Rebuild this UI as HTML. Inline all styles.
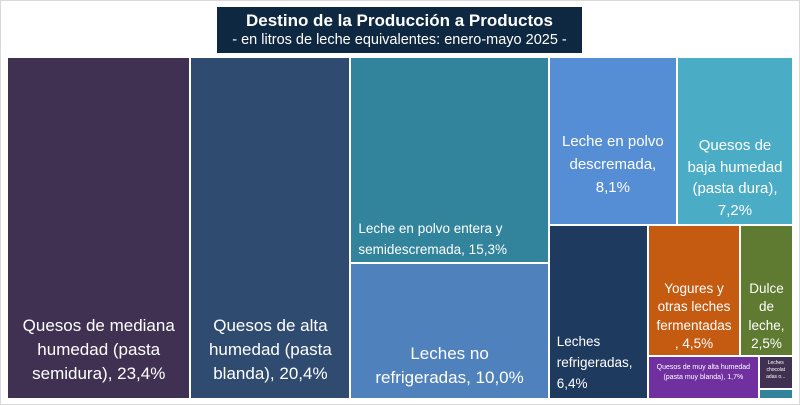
<!DOCTYPE html>
<html><head><meta charset="utf-8"><style>
body{margin:0;background:#fff;}
#wrap{position:relative;width:800px;height:405px;background:#fff;overflow:hidden;font-family:"Liberation Sans",sans-serif;}
#frame{position:absolute;left:0;top:0;width:798px;height:403px;border:1px solid #d9d9d9;}
#title{position:absolute;left:217px;top:7px;width:365px;height:46px;background:#0e2841;color:#fff;text-align:center;}
#title .t1{font-weight:bold;font-size:17px;margin-top:3px;line-height:21px;}
#title .t2{font-size:14.5px;line-height:19px;}
.cell{position:absolute;box-sizing:border-box;color:#fff;overflow:hidden;}
.lab{position:absolute;left:0;right:0;text-align:center;}
</style></head><body>
<div id="wrap">
<div id="frame"></div>
<div id="title">
<div class="t1">Destino de la Producción a Productos</div>
<div class="t2">- en litros de leche equivalentes: enero-mayo 2025 -</div>
</div>
<div id="plot"></div>
</div>
<script>
const categories=["Quesos de mediana humedad (pasta semidura)","Quesos de alta humedad (pasta blanda)","Leche en polvo entera y semidescremada","Leches no refrigeradas","Leche en polvo descremada","Quesos de baja humedad (pasta dura)","Leches refrigeradas","Yogures y otras leches fermentadas","Dulce de leche","Quesos de muy alta humedad (pasta muy blanda)","Leches chocolatadas","Otros"];
const values=[23.4,20.4,15.3,10.0,8.1,7.2,6.4,4.5,2.5,1.7,0.4,0.1];
const valueLabels=["23,4%","20,4%","15,3%","10,0%","8,1%","7,2%","6,4%","4,5%","2,5%","1,7%","0,4%","0,1%"];
const labelLines=[
 ["Quesos de mediana","humedad (pasta","semidura), 23,4%"],
 ["Quesos de alta","humedad (pasta","blanda), 20,4%"],
 ["Leche en polvo entera y","semidescremada, 15,3%"],
 ["Leches no","refrigeradas, 10,0%"],
 ["Leche en polvo","descremada,","8,1%"],
 ["Quesos de","baja humedad","(pasta dura),","7,2%"],
 ["Leches","refrigeradas,","6,4%"],
 ["Yogures y","otras leches","fermentadas",", 4,5%"],
 ["Dulce","de","leche,","2,5%"],
 ["Quesos de muy alta humedad","(pasta muy blanda), 1,7%"],
 ["Leches","chocolat","adas o..."],
 []];
const groups=[[0],[1],[2,3],[4,5],[6],[7,8],[9],[10],[11]];
const colors=["#403152","#2f4b70","#31849b","#4f81bd","#558ed5","#4bacc6","#1f3a5f","#c55a11","#5f7a31","#7030a0","#403152","#31849b"];
const styles=[[17,24,'b',12,'c'],[17,24,'b',12,'c'],[13.5,21,'b',2,'l'],[17,24,'b',8,'c'],[15,23,'t',72,'c'],[15,21.5,'t',77,'c'],[13.5,21,'b',4,'l'],[13.5,18.5,'b',1,'c'],[13.5,18.5,'b',1,'c'],[7,10,'t',6,'c'],[5,7,'t',3,'c'],[5,7,'t',0,'c']];
const plot=document.getElementById('wrap');
const X0=8,Y0=58,W=784,H=340,GAP=2;
let rx=X0,ry=Y0,rw=W,rh=H,remain=values.reduce((a,b)=>a+b,0);
const rects=[];
groups.forEach(g=>{
  const s=g.reduce((a,i)=>a+values[i],0);
  if(rw>=rh){
    const w=rw*s/remain;let y=ry;
    g.forEach(i=>{const h=rh*values[i]/s;rects[i]=[rx,y,w,h];y+=h;});
    rx+=w;rw-=w;
  }else{
    const h=rh*s/remain;let x=rx;
    g.forEach(i=>{const w=rw*values[i]/s;rects[i]=[x,ry,w,h];x+=w;});
    ry+=h;rh-=h;
  }
  remain-=s;
});
rects.forEach((r,i)=>{
  const d=document.createElement('div');
  d.className='cell';
  
  
  d.title=categories[i]+', '+valueLabels[i];
  const right=r[0]+r[2],bottom=r[1]+r[3];
  const x=r[0],y=r[1];
  const w=(right>=X0+W-0.5?right:right-GAP)-x,h=(bottom>=Y0+H-0.5?bottom:bottom-GAP)-y;
  d.style.left=x+'px';d.style.top=y+'px';d.style.width=Math.max(w,0)+'px';d.style.height=Math.max(h,0)+'px';
  d.style.background=colors[i];
  const st=styles[i];
  if(labelLines[i].length){
    const l=document.createElement('div');
    l.className='lab';
    
    
    l.style.fontSize=st[0]+'px';l.style.lineHeight=st[1]+'px';
    if(st[2]==='b'){l.style.bottom=st[3]+'px';}else{l.style.top=st[3]+'px';}
    if(st[4]==='l'){l.style.textAlign='left';l.style.left='7px';}
    l.innerHTML=labelLines[i].join('<br>');
    d.appendChild(l);
  }
  plot.appendChild(d);
});
</script>
</body></html>
